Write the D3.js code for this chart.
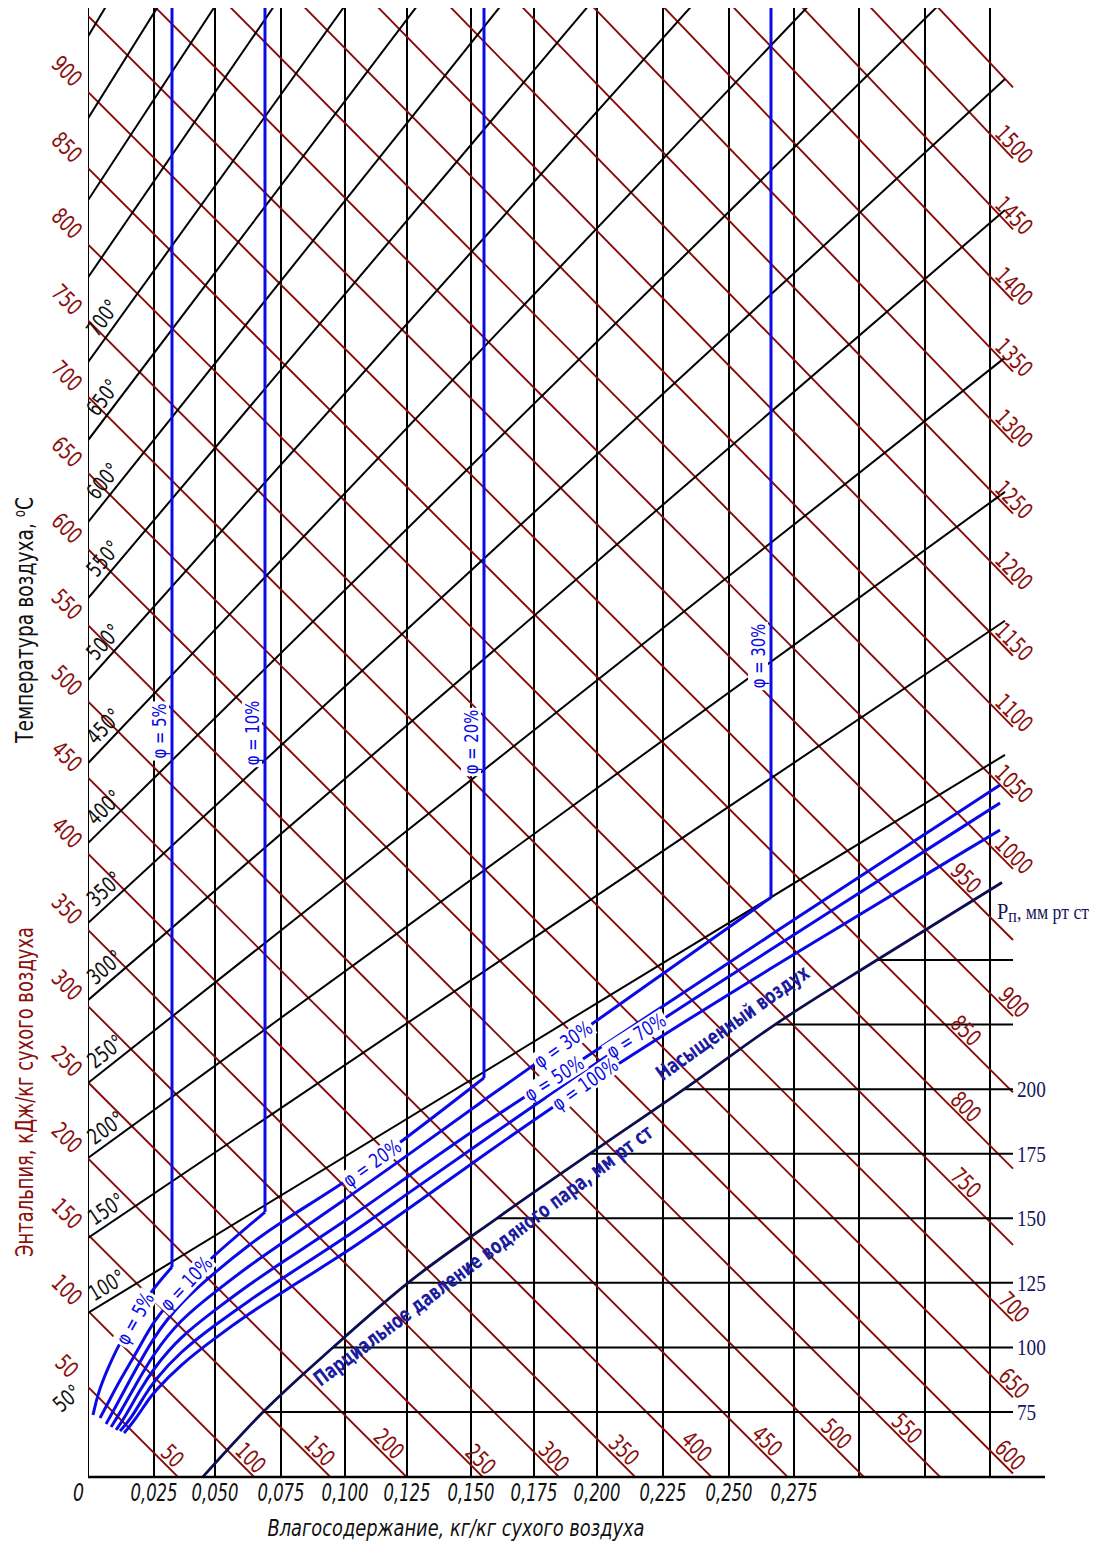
<!DOCTYPE html>
<html lang="ru">
<head>
<meta charset="utf-8">
<title>I-d диаграмма</title>
<script src="https://cdn.jsdelivr.net/npm/d3@7/dist/d3.min.js"></script>
<style>
  html, body { margin:0; padding:0; background:#ffffff; }
  svg { display:block; }
  text { font-family: "Liberation Sans Narrow", "Arial Narrow", "DejaVu Sans Condensed", "Liberation Sans", sans-serif; }
  .serif { font-family: "Liberation Serif", "Times New Roman", "DejaVu Serif", serif; }
</style>
</head>
<body>
<svg id="chart" width="1102" height="1546" viewBox="0 0 1102 1546"></svg>
<script>
// ================= DATA =================
// moisture content d, kg/kg dry air (vertical grid)
const gridD = [0,0.025,0.05,0.075,0.1,0.125,0.15,0.175,0.2,0.225,0.25,0.275,0.3,0.325,0.35];
const dTickLabels = ["0","0,025","0,050","0,075","0,100","0,125","0,150","0,175","0,200","0,225","0,250","0,275"];

// enthalpy lines, kJ/kg dry air
const enthalpyValues = [50,100,150,200,250,300,350,400,450,500,550,600,650,700,750,800,850,900,950,1000,1050,1100,1150,1200,1250,1300,1350,1400,1450,1500,1550];
const enthalpyLeftLabels = [50,100,150,200,250,300,350,400,450,500,550,600,650,700,750,800,850,900];
const enthalpyBottomLabels = [50,100,150,200,250,300,350,400,450,500,550,600];
const enthalpyRightLabels = [650,700,750,800,850,900,950,1000,1050,1100,1150,1200,1250,1300,1350,1400,1450,1500];

// isotherms: temperature, enthalpy at d = 0, enthalpy at d = 0.35
const isoTemps = [50,100,150,200,250,300,350,400,450,500,550,600,650,700,750,800,850,900];
const isoI0 = [50.2,98.6,147.8,200.3,249.5,303.9,354.5,407.0,459.4,513.9,567.7,617.6,671.4,722.6,778.3,828.9,882.7,936.5];
const isoI1 = [968,1057.5,1151,1241,1334.6,1437.5,1529,1626,1724,1824,1924,2020,2121,2219,2323,2422,2524,2627];
const isoLabelTemps = [50,100,150,200,250,300,350,400,450,500,550,600,650,700];

// relative humidity curves (d, I)
const phi5D  = [0.00189,0.00379,0.0072,0.01212,0.01705,0.02348,0.03238];
const phi5I  = [34.9,52.6,73.6,100.5,122.2,153.1,183.9];
const phi10D = [0.00455,0.00758,0.01212,0.01894,0.025,0.03566,0.04713,0.06894];
const phi10I = [37.5,52.6,75.6,107.1,137.3,174.1,212.1,281.0];
const phi20D = [0.00682,0.01023,0.01591,0.025,0.03566,0.05,0.06326,0.075,0.10081,0.12218,0.15516];
const phi20I = [37.5,53.9,82.2,126.8,165.5,208.8,250.2,285.0,355.2,414.9,512.7];
const phi30D = [0.00871,0.01212,0.0178,0.025,0.03566,0.05,0.06326,0.075,0.10081,0.12218,0.15516,0.1881,0.26615];
const phi30I = [38.8,53.9,81.5,115.6,154.4,195.7,236.4,270.5,344.1,403.1,498.3,590.9,819.3];
const phi50D = [0.01061,0.01402,0.0197,0.025,0.03566,0.05,0.06326,0.075,0.10081,0.12218,0.15516,0.18651,0.26615,0.35385];
const phi50I = [40.2,54.6,82.2,105.8,143.2,183.9,223.9,258.1,329.6,389.3,483.2,567.9,795.0,1049.8];
const phi70D = [0.01212,0.01591,0.02159,0.025,0.03566,0.05,0.06326,0.075,0.10081,0.12218,0.15516,0.21364,0.26615,0.35385];
const phi70I = [42.1,55.9,82.2,97.3,133.4,174.1,213.4,247.6,318.5,378.2,472.0,636.8,785.1,1037.2];
const phi100D = [0.01364,0.0178,0.02273,0.025,0.03566,0.05,0.06326,0.075,0.10081,0.12218,0.15516,0.19603,0.26615,0.35385];
const phi100I = [43.4,59.2,80.8,90.0,124.8,165.5,204.9,238.4,308.6,367.7,462.2,577.1,773.3,1018.2];
const phiNames = ["5%","10%","20%","30%","50%","70%","100%"];
const phiVerticalNames = ["5%","10%","20%","30%"];

// water vapour partial pressure line (mm Hg vs d)
const satP = [50,75,100,125,150,175,200,225,250,280];
const satD = [0.0451,0.0682,0.0953,0.1254,0.1603,0.1972,0.2330,0.2677,0.3068,0.3546];
const pTicks = [75,100,125,150,175,200,225,250];
const pTickLabels = ["75","100","125","150","175","200","",""];

// ================= LAYOUT =================
const PLOT = {left:88, right:990, top:8, bottom:1477, lineEnd:1013, isoEnd:1005, axisEnd:1045};
const gridX = [88,154,215,281,345,407,471,534,597,663,729,794,859,925,990];
const C = {grid:"#000", red:"#880b0b", redText:"#8a0f0f", blue:"#0a0ae6", navy:"#0d0d4f", navyText:"#16165a", annBlue:"#1c1ca0"};
const rightInnerLabels = [950,850,800,750];
const bottomLabelAlong = {50:19,100:16,150:26,200:36,250:14,300:18,350:27,400:32,450:40,500:50,550:58,600:20};
const phiCurveLabelX = {"5%":135, "10%":186, "20%":372, "30%":563, "50%":554, "70%":636, "100%":585};
const phiVertLabelY = {"5%":731, "10%":733, "20%":742, "30%":656};

const svg = d3.select("#chart");
const xS = d3.scaleLinear().domain(gridD).range(gridX);
const yL = d3.scaleLinear().domain([50,900]).range([1387,92]);
const yR = d3.scaleLinear().domain([50,950,1500]).range([2289,917,134]);
const pS = d3.scaleLinear().domain([75,250]).range([1412,960]);
function P(d, I){
  const x = xS(d);
  const t = (x - PLOT.left) / (PLOT.right - PLOT.left);
  return [x, yL(I)*(1-t) + yR(I)*t];
}
function yOnSeg(a, b, x){ return a[1] + (b[1]-a[1])*(x-a[0])/(b[0]-a[0]); }
function deg(a, b){ return Math.atan2(b[1]-a[1], b[0]-a[0]) * 180 / Math.PI; }
function polyAt(pts, x){
  for (let i=0;i<pts.length-1;i++){
    if (x >= pts[i][0] && x <= pts[i+1][0]) return {y:yOnSeg(pts[i],pts[i+1],x), a:deg(pts[i],pts[i+1])};
  }
  const n = pts.length-1;
  return {y:yOnSeg(pts[n-1],pts[n],x), a:deg(pts[n-1],pts[n])};
}

svg.append("rect").attr("width",1102).attr("height",1546).attr("fill","#fff");
const defs = svg.append("defs");
defs.append("clipPath").attr("id","plotClip").append("rect")
  .attr("x",PLOT.left).attr("y",PLOT.top).attr("width",PLOT.lineEnd + 2 - PLOT.left).attr("height",PLOT.bottom - PLOT.top);
const plot = svg.append("g").attr("clip-path","url(#plotClip)");

// vertical grid (d)
plot.append("g").selectAll("line").data(gridD).join("line")
  .attr("x1",d=>xS(d)).attr("x2",d=>xS(d)).attr("y1",PLOT.top).attr("y2",PLOT.bottom)
  .attr("stroke",C.grid).attr("stroke-width",2);

// enthalpy lines
const dEnd = xS.invert(PLOT.lineEnd);
const hLines = enthalpyValues.map(I => ({I, a:P(0,I), b:P(dEnd,I)}));
plot.append("g").selectAll("line").data(hLines).join("line")
  .attr("x1",h=>h.a[0]).attr("y1",h=>h.a[1]).attr("x2",h=>h.b[0]).attr("y2",h=>h.b[1])
  .attr("stroke",C.red).attr("stroke-width",1.9);

// isotherms
const isoLines = isoTemps.map((t,i) => {
  const a = P(0, isoI0[i]), b = P(0.35, isoI1[i]);
  const k = (b[1]-a[1])/(b[0]-a[0]);
  return {t, a, k, end:[PLOT.isoEnd, a[1] + k*(PLOT.isoEnd - a[0])]};
});
plot.append("g").selectAll("line").data(isoLines.filter(l => l.t >= 100)).join("line")
  .attr("x1",l=>l.a[0]).attr("y1",l=>l.a[1]).attr("x2",l=>l.end[0]).attr("y2",l=>l.end[1])
  .attr("stroke",C.grid).attr("stroke-width",2);

// partial pressure horizontal lines
const pLines = pTicks.map((p,i) => ({p, lab:pTickLabels[i], x0:xS(satD[satP.indexOf(p)]), y:pS(p)}));
svg.append("g").selectAll("line").data(pLines).join("line")
  .attr("x1",l=>l.x0).attr("x2",PLOT.lineEnd).attr("y1",l=>l.y).attr("y2",l=>l.y)
  .attr("stroke",C.grid).attr("stroke-width",2);

// partial pressure curve
const satPts = satP.map((p,i) => [xS(satD[i]), pS(p)]);
svg.append("path").attr("d", d3.line().curve(d3.curveMonotoneX)(satPts))
  .attr("fill","none").attr("stroke",C.navy).attr("stroke-width",2.8);

// relative humidity curves
const phiSeries = [
  {name:"5%", D:phi5D, I:phi5I},
  {name:"10%", D:phi10D, I:phi10I},
  {name:"20%", D:phi20D, I:phi20I},
  {name:"30%", D:phi30D, I:phi30I},
  {name:"50%", D:phi50D, I:phi50I},
  {name:"70%", D:phi70D, I:phi70I},
  {name:"100%", D:phi100D, I:phi100I}
];
phiSeries.forEach(s => { s.pts = s.D.map((d,i) => P(d, s.I[i])); });
const phiG = plot.append("g");
phiSeries.forEach(s => {
  phiG.append("path").attr("d", d3.line().curve(d3.curveBasis)(s.pts))
    .attr("fill","none").attr("stroke",C.blue).attr("stroke-width",3).attr("stroke-linejoin","round");
  if (phiVerticalNames.includes(s.name)){
    const c = s.pts[s.pts.length-1];
    phiG.append("line").attr("x1",c[0]).attr("x2",c[0]).attr("y1",c[1]).attr("y2",PLOT.top)
      .attr("stroke",C.blue).attr("stroke-width",3);
  }
});

// x axis
svg.append("line").attr("x1",PLOT.left).attr("x2",PLOT.axisEnd).attr("y1",PLOT.bottom).attr("y2",PLOT.bottom)
  .attr("stroke","#000").attr("stroke-width",2.6);

// label layers: white knock-outs first, then all texts above them
const bgLayer = svg.append("g");
const labels = svg.append("g");
function label(g, cx, cy, ang, txt, opts){
  const tr = `translate(${cx},${cy}) rotate(${ang})`;
  const grp = g.append("g").attr("transform", tr);
  const t = grp.append("text").attr("text-anchor","middle").attr("dy","0.35em")
    .attr("font-size", opts.size).attr("fill", opts.fill).text(txt);
  if (opts.len) t.attr("textLength", opts.len).attr("lengthAdjust","spacingAndGlyphs");
  if (opts.italic) t.attr("font-style","italic");
  if (opts.weight) t.attr("font-weight", opts.weight);
  if (opts.bg){
    const bb = t.node().getBBox();
    bgLayer.append("rect").attr("transform", tr)
      .attr("x",bb.x-2).attr("y",bb.y+2).attr("width",bb.width+4).attr("height",bb.height-4).attr("fill","#fff");
  }
  return grp;
}

// x tick labels
dTickLabels.forEach((s,i) => {
  const x = xS(gridD[i]);
  labels.append("text").attr("x", i===0 ? x-4 : x).attr("y",1493).attr("dy","0.35em")
    .attr("text-anchor", i===0 ? "end" : "middle").attr("font-size",24).attr("font-style","italic")
    .attr("textLength", s.length===1 ? 11 : 47).attr("lengthAdjust","spacingAndGlyphs")
    .attr("fill","#111").text(s);
});

// enthalpy labels
const hByI = new Map(hLines.map(h => [h.I, h]));
const hLen = I => String(I).length * 10.6;
enthalpyLeftLabels.forEach(I => {
  const h = hByI.get(I); const x = 67;
  label(labels, x, yOnSeg(h.a,h.b,x), deg(h.a,h.b), String(I), {size:23, fill:C.redText, len:hLen(I)});
});
enthalpyBottomLabels.forEach(I => {
  const h = hByI.get(I);
  const xb = h.a[0] + (PLOT.bottom - h.a[1]) * (h.b[0]-h.a[0]) / (h.b[1]-h.a[1]);
  const L = Math.hypot(h.b[0]-h.a[0], h.b[1]-h.a[1]);
  const u = [(h.b[0]-h.a[0])/L, (h.b[1]-h.a[1])/L];
  const n = [u[1], -u[0]];
  const a = bottomLabelAlong[I];
  const cx = xb - a*u[0] + 11*n[0], cy = PLOT.bottom - a*u[1] + 11*n[1];
  label(labels, cx, cy, deg(h.a,h.b), String(I), {size:23, fill:C.redText, len:hLen(I)});
});
enthalpyRightLabels.forEach(I => {
  const h = hByI.get(I);
  const x = rightInnerLabels.includes(I) ? 966 : 1014;
  label(labels, x, yOnSeg(h.a,h.b,x) - 15, deg(h.a,h.b), String(I), {size:23, fill:C.redText, len:hLen(I)});
});

// isotherm labels
isoLines.forEach(l => {
  if (!isoLabelTemps.includes(l.t)) return;
  const ang = Math.atan(l.k) * 180 / Math.PI;
  const len = String(l.t).length * 10.6 + 7;
  if (l.t < 100){
    const x = 67;
    label(labels, x, l.a[1] + l.k*(x - l.a[0]), ang - 12, `${l.t}°`, {size:22, fill:"#111", len});
  } else {
    const x = 114, y = l.a[1] + l.k*(x - l.a[0]);
    const r = Math.atan(l.k);
    const n = [Math.sin(r), -Math.cos(r)];
    label(labels, x + 14*n[0], y + 14*n[1], ang, `${l.t}°`, {size:22, fill:"#111", len});
  }
});

// phi labels on vertical lines
phiSeries.filter(s => phiVerticalNames.includes(s.name)).forEach(s => {
  const c = s.pts[s.pts.length-1];
  const txt = `φ = ${s.name}`;
  label(labels, c[0]-13, phiVertLabelY[s.name], -90, txt, {size:20, fill:C.blue, bg:true, len:txt.length*9.2});
});
// phi labels on curves
phiSeries.forEach(s => {
  const x = phiCurveLabelX[s.name];
  const q = polyAt(s.pts, x);
  const txt = `φ = ${s.name}`;
  label(labels, x, q.y, q.a, txt, {size:20, fill:C.blue, bg:true, len:txt.length*9.4});
});

// annotations along the partial pressure line
{
  const q1 = polyAt(satPts, 741);
  label(labels, 741 + 15*Math.sin(q1.a*Math.PI/180), q1.y - 26, q1.a, "Насыщенный воздух", {size:21, fill:C.annBlue, len:182, weight:"bold"});
  const q2 = polyAt(satPts, 483);
  label(labels, 483, q2.y + 27, q2.a - 1, "Парциальное давление водяного пара, мм рт ст", {size:21, fill:C.annBlue, len:418, weight:"bold"});
}

// pressure tick labels
pLines.forEach(l => {
  if (!l.lab) return;
  labels.append("text").attr("class","serif").attr("x",1017).attr("y",l.y).attr("dy","0.35em")
    .attr("font-size",23).attr("fill",C.navyText)
    .attr("textLength", l.lab.length*9.6).attr("lengthAdjust","spacingAndGlyphs").text(l.lab);
});
{
  const t = labels.append("text").attr("class","serif").attr("x",997).attr("y",919)
    .attr("font-size",23).attr("fill",C.navyText)
    .attr("textLength",92).attr("lengthAdjust","spacingAndGlyphs");
  t.append("tspan").text("P");
  t.append("tspan").attr("font-size",18).attr("dy",3).text("п");
  t.append("tspan").attr("font-size",20).attr("dy",-3).text(", мм рт ст");
}

// axis titles
{
  const t = labels.append("text").attr("transform","translate(25,620) rotate(-90)")
    .attr("text-anchor","middle").attr("dy","0.35em").attr("font-size",24).attr("fill","#111")
    .attr("textLength",246).attr("lengthAdjust","spacingAndGlyphs");
  t.append("tspan").text("Температура воздуха, ");
  t.append("tspan").attr("font-size",15).attr("dy",-8).text("o");
  t.append("tspan").attr("dy",8).text("C");
  labels.append("text").attr("transform","translate(25,1092) rotate(-90)")
    .attr("text-anchor","middle").attr("dy","0.35em").attr("font-size",24).attr("fill",C.redText)
    .attr("textLength",330).attr("lengthAdjust","spacingAndGlyphs")
    .text("Энтальпия, кДж/кг сухого воздуха");
  labels.append("text").attr("x",456).attr("y",1528).attr("text-anchor","middle").attr("dy","0.35em")
    .attr("font-size",23).attr("font-style","italic").attr("fill","#111")
    .attr("textLength",377).attr("lengthAdjust","spacingAndGlyphs")
    .text("Влагосодержание, кг/кг сухого воздуха");
}
</script>
</body>
</html>
